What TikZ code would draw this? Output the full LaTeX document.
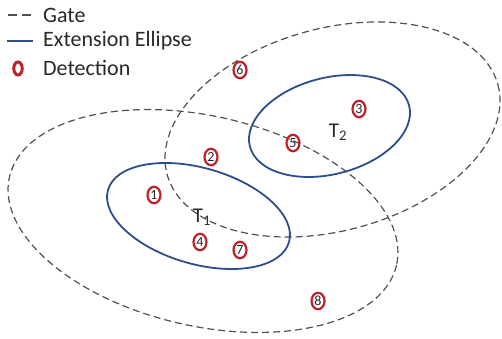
\documentclass[tikz,border=0pt]{standalone}
\usepackage{fontspec}
\setmainfont{Carlito}
\usetikzlibrary{shapes.geometric}
\definecolor{extblue}{RGB}{44,79,140}
\definecolor{detred}{RGB}{192,32,40}
\definecolor{gategray}{RGB}{80,80,80}
\definecolor{txt}{RGB}{40,40,40}
\begin{document}
\begin{tikzpicture}[x=1pt,y=-1pt,
  gate/.style={draw=gategray,dash pattern=on 7pt off 4pt,line width=1.2pt},
  ext/.style={draw=extblue,line width=1.8pt},
  det/.style={draw=detred,line width=2.2pt,ellipse,inner sep=0pt,minimum width=13pt,minimum height=16.5pt,font=\fontsize{14}{14}\selectfont,text=txt},
  lbl/.style={font=\fontsize{22}{22}\selectfont,anchor=west,text=txt,inner sep=0pt},
  tl/.style={font=\fontsize{21}{21}\selectfont,text=txt,inner sep=0pt}]
\useasboundingbox (0,0) rectangle (502,339);
% gates
\draw[gate,rotate around={-12.8:(203,221)}] (203,221) ellipse [x radius=198.5, y radius=105];
\draw[gate,rotate around={15.2:(332.5,129.5)}] (332.5,129.5) ellipse [x radius=171.4, y radius=101.2];
% extension ellipses
\draw[ext,rotate around={-16.1:(198.5,216)}] (198.5,216) ellipse [x radius=94.2, y radius=48];
\draw[ext,rotate around={14.4:(329.5,126)}] (329.5,126) ellipse [x radius=82.2, y radius=48.2];
% labels
\node[tl] (t1) at (202,217) {T\textsubscript{1}};
\node[tl] (t2) at (338,132) {T\textsubscript{2}};
% detections
\node[det] (d1) at (154,195) {1};
\node[det] (d2) at (211,157) {2};
\node[det] (d3) at (359,109) {3};
\node[det] (d4) at (200,242) {4};
\node[det] (d5) at (293,143) {5};
\node[det] (d6) at (240,70) {6};
\node[det] (d7) at (240,250) {7};
\node[det] (d8) at (318,301) {8};
% legend
\coordinate (g1) at (8,15); \coordinate (g2) at (34,15);
\draw[gate,dash pattern=on 9pt off 5pt] (g1) -- (g2);
\node[lbl] (lg) at (43,15) {Gate};
\coordinate (e1) at (7,41); \coordinate (e2) at (33,41);
\draw[ext] (e1) -- (e2);
\node[lbl] (le) at (43,41) {Extension Ellipse};
\node[det,line width=3pt,minimum width=8.5pt,minimum height=13pt] (ld) at (18,68.5) {};
\node[lbl] (ldt) at (43,68) {Detection};
\end{tikzpicture}
\end{document}
